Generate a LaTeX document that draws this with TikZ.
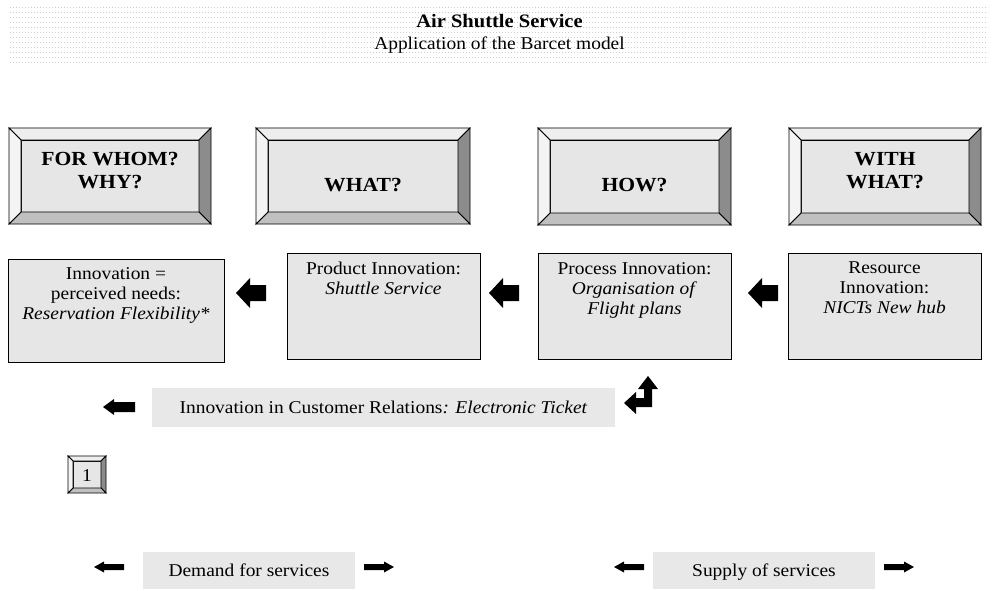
\documentclass[tikz,border=0pt]{standalone}
\usepackage{fontspec}
\setmainfont[FakeStretch=1.08]{Liberation Serif}
\usetikzlibrary{calc}
\definecolor{face}{HTML}{E6E6E6}
\definecolor{bartone}{HTML}{E8E8E8}
\definecolor{bvtop}{HTML}{EEEEEE}
\definecolor{bvleft}{HTML}{F4F4F4}
\definecolor{bvright}{HTML}{8C8C8C}
\definecolor{bvbottom}{HTML}{C0C0C0}
\newcommand\bevelof[2]{%
  \path (#1.north west) coordinate (#1-iNW) ++(-#2,-#2) coordinate (#1-oNW)
        (#1.north east) coordinate (#1-iNE) ++(#2,-#2) coordinate (#1-oNE)
        (#1.south east) coordinate (#1-iSE) ++(#2,#2) coordinate (#1-oSE)
        (#1.south west) coordinate (#1-iSW) ++(-#2,#2) coordinate (#1-oSW);
  \filldraw[bvline,fill=bvtop] (#1-oNW) -- (#1-oNE) -- (#1-iNE) -- (#1-iNW) -- cycle;
  \filldraw[bvline,fill=bvright] (#1-oNE) -- (#1-oSE) -- (#1-iSE) -- (#1-iNE) -- cycle;
  \filldraw[bvline,fill=bvbottom] (#1-oSE) -- (#1-oSW) -- (#1-iSW) -- (#1-iSE) -- cycle;
  \filldraw[bvline,fill=bvleft] (#1-oSW) -- (#1-oNW) -- (#1-iNW) -- (#1-iSW) -- cycle;
}
% block arrow: tip x, tip y, length, head length, head half, shaft half
\newcommand\leftblock[6]{%
  \fill[black] (#1,#2) -- ++(#4,-#5) -- ++(0,{#5-#6}) -- ++({#3-#4},0) -- ++(0,{2*#6}) -- ++({#4-#3},0) -- ++(0,{#5-#6}) -- cycle;}
\newcommand\rightblock[6]{%
  \fill[black] (#1,#2) -- ++(-#4,-#5) -- ++(0,{#5-#6}) -- ++({#4-#3},0) -- ++(0,{2*#6}) -- ++({#3-#4},0) -- ++(0,{#5-#6}) -- cycle;}
\begin{document}
\begin{tikzpicture}[x=1pt,y=-1pt,
  bvline/.style={draw=black,line width=0.8pt},
  facebox/.style={draw=black,line width=0.8pt,fill=face,inner sep=0pt,outer sep=0pt,anchor=north west},
  contentbox/.style={draw=black,line width=0.8pt,fill=face,inner sep=0pt,outer sep=0pt,anchor=north west},
  barbox/.style={fill=bartone,inner sep=0pt,outer sep=0pt,anchor=north west},
  hdr/.style={font=\fontsize{20}{22}\selectfont\bfseries,inner sep=0pt,anchor=base},
  body/.style={font=\fontsize{18}{20}\selectfont,inner sep=0pt,align=center,anchor=north},
  bodyline/.style={font=\fontsize{18}{20}\selectfont,inner sep=0pt,anchor=base}]
\useasboundingbox (0,0) rectangle (999,591);
\fill[white] (0,0) rectangle (999,591);
% dotted title band
\foreach \yy in {7,12,...,62}{\draw[gray!40,line width=0.6pt,dash pattern=on 0.8pt off 2.2pt] (10,\yy) -- (988,\yy);}
\node[font=\fontsize{19}{21}\selectfont\bfseries,inner sep=0pt,anchor=base] (title) at (499.5,28) {Air Shuttle Service};
\node[bodyline] (subtitle) at (499.5,50) {Application of the Barcet model};
% header bevel boxes
\node[facebox,minimum width=178pt,minimum height=72pt] (h1) at (21,140) {};
\bevelof{h1}{12}
\node[facebox,minimum width=190pt,minimum height=72pt] (h2) at (268,140) {};
\bevelof{h2}{12}
\node[facebox,minimum width=169pt,minimum height=73pt] (h3) at (550,140) {};
\bevelof{h3}{12}
\node[facebox,minimum width=168pt,minimum height=73pt] (h4) at (801,140) {};
\bevelof{h4}{12}
\node[hdr] (h1a) at (110,166) {FOR WHOM?};
\node[hdr] (h1b) at (110,189) {WHY?};
\node[hdr] (h2a) at (363,191) {WHAT?};
\node[hdr] (h3a) at (634.5,191) {HOW?};
\node[hdr] (h4a) at (885,166) {WITH};
\node[hdr] (h4b) at (885,189) {WHAT?};
% content boxes
\node[contentbox,minimum width=216pt,minimum height=103pt] (bA) at (8,259) {};
\node[contentbox,minimum width=193pt,minimum height=106pt] (bB) at (287,253) {};
\node[contentbox,minimum width=193pt,minimum height=106pt] (bC) at (538,253) {};
\node[contentbox,minimum width=193pt,minimum height=106pt] (bD) at (788,253) {};
\node[body] (tA) at (116,267) {Innovation =\\perceived needs:\\\textit{Reservation Flexibility*}};
\node[body] (tB) at (383.5,262) {Product Innovation:\\\textit{Shuttle Service}};
\node[body] (tC) at (634.5,262) {Process Innovation:\\\textit{Organisation of}\\\textit{Flight plans}};
\node[body] (tD) at (884.5,262) {Resource\\Innovation:\\\textit{NICTs New hub}};
% arrows between content boxes
\leftblock{236}{293}{30}{14}{15}{8}
\leftblock{489}{293}{30}{14}{15}{8}
\leftblock{748}{293}{30}{14}{15}{8}
% customer relations bar
\node[barbox,minimum width=463pt,minimum height=39pt] (cr) at (152,388) {};
\node[bodyline] (crt) at (383.5,413) {Innovation in Customer Relations\textit{: Electronic Ticket}};
\leftblock{103}{407}{32}{11}{8}{5}
% bent arrow
\fill[black] (624,403) -- (636,392) -- (636,398) -- (644,398) -- (644,389) -- (638,389) -- (648,376) -- (658,389) -- (652,389) -- (652,407) -- (636,407) -- (636,414) -- cycle;
% small bevel box 1
\node[facebox,minimum width=28pt,minimum height=27pt] (n1) at (73,461) {};
\bevelof{n1}{5}
\node[bodyline] (n1t) at (87,481) {1};
% bottom bars
\node[barbox,minimum width=212pt,minimum height=37pt] (dem) at (143,552) {};
\node[bodyline] (demt) at (249,576) {Demand for services};
\node[barbox,minimum width=222pt,minimum height=37pt] (sup) at (653,552) {};
\node[bodyline] (supt) at (764,576) {Supply of services};
\leftblock{94}{567}{30}{10}{5.5}{3}
\rightblock{394}{567}{30}{10}{5.5}{3}
\leftblock{614}{567}{30}{10}{5.5}{3}
\rightblock{914}{567}{30}{10}{5.5}{3}
\end{tikzpicture}
\end{document}
